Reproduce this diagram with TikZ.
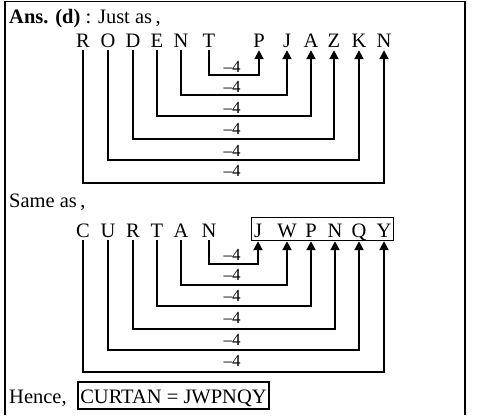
\documentclass[tikz,border=0pt]{standalone}
\usepackage{fontspec}
\setmainfont{Liberation Serif}
\usetikzlibrary{arrows.meta}
\tikzset{
  letter/.style={inner sep=0pt, anchor=base, font=\fontsize{20.5}{24}\selectfont},
  txt/.style={inner sep=0pt, anchor=base west, font=\fontsize{20.5}{24}\selectfont},
  lab/.style={inner sep=0pt, font=\fontsize{17}{19}\selectfont},
  conn/.style={line width=2pt, -{Triangle[width=9pt,length=9pt]}},
  frame/.style={line width=1.2pt},
  boxed/.style={draw, line width=1.2pt, inner sep=0pt},
}
\begin{document}
\begin{tikzpicture}[x=1pt,y=-1pt]
\useasboundingbox (0,0) rectangle (478,415);
\draw[frame] (5,415) -- (5,1.5) -- (465,1.5) -- (465,415);

% headings
\node[txt] (ans) at (9,23) {\textbf{Ans. (d)} : Just as\,,};
\node[txt] (same) at (9,207) {Same as\,,};
\node[txt] (hence) at (9,403) {Hence,};
\node[boxed, letter, text height=21pt, text depth=6pt, minimum width=191pt] (res) at (173.5,403) {CURTAN = JWPNQY};

% row 1 letters
\foreach \n/\t/\x in {aR/R/83, aO/O/108, aD/D/133, aE/E/157, aN/N/181, aT/T/209,
                      aP/P/259, aJ/J/287, aA/A/311, aZ/Z/334, aK/K/359, aNN/N/384}
  \node[letter, text depth=3pt] (\n) at (\x,47) {\t};

% row 2 letters
\foreach \n/\t/\x in {bC/C/83, bU/U/108, bR/R/133, bT/T/157, bA/A/181, bN/N/209,
                      bJ/J/258, bW/W/287, bP/P/311, bNN/N/335, bQ/Q/359, bY/Y/384}
  \node[letter, text depth=3pt] (\n) at (\x,237) {\t};
\node[boxed, minimum width=142pt, minimum height=23pt, anchor=north west] (box2) at (251,217) {};

% bar levels
\foreach \n/\y in {p1/75, p2/95, p3/116, p4/139, p5/160, p6/183,
                   q1/264, q2/285, q3/306, q4/329, q5/350, q6/372}
  \coordinate (\n) at (0,\y);

% labels
\foreach \n/\y in {l1/67, l2/87, l3/108, l4/129, l5/151, l6/171,
                   m1/255, m2/275, m3/296, m4/318, m5/340, m6/361}
  \node[lab] (\n) at (232,\y) {–4};

% row 1 connectors
\draw[conn] (aT.south) -- (aT.south |- p1) -| (aP.south);
\draw[conn] (aN.south) -- (aN.south |- p2) -| (aJ.south);
\draw[conn] (aE.south) -- (aE.south |- p3) -| (aA.south);
\draw[conn] (aD.south) -- (aD.south |- p4) -| (aZ.south);
\draw[conn] (aO.south) -- (aO.south |- p5) -| (aK.south);
\draw[conn] (aR.south) -- (aR.south |- p6) -| (aNN.south);

% row 2 connectors
\draw[conn] (bN.south) -- (bN.south |- q1) -| (bJ.south |- box2.south);
\draw[conn] (bA.south) -- (bA.south |- q2) -| (bW.south |- box2.south);
\draw[conn] (bT.south) -- (bT.south |- q3) -| (bP.south |- box2.south);
\draw[conn] (bR.south) -- (bR.south |- q4) -| (bNN.south |- box2.south);
\draw[conn] (bU.south) -- (bU.south |- q5) -| (bQ.south |- box2.south);
\draw[conn] (bC.south) -- (bC.south |- q6) -| (bY.south |- box2.south);
\end{tikzpicture}
\end{document}
